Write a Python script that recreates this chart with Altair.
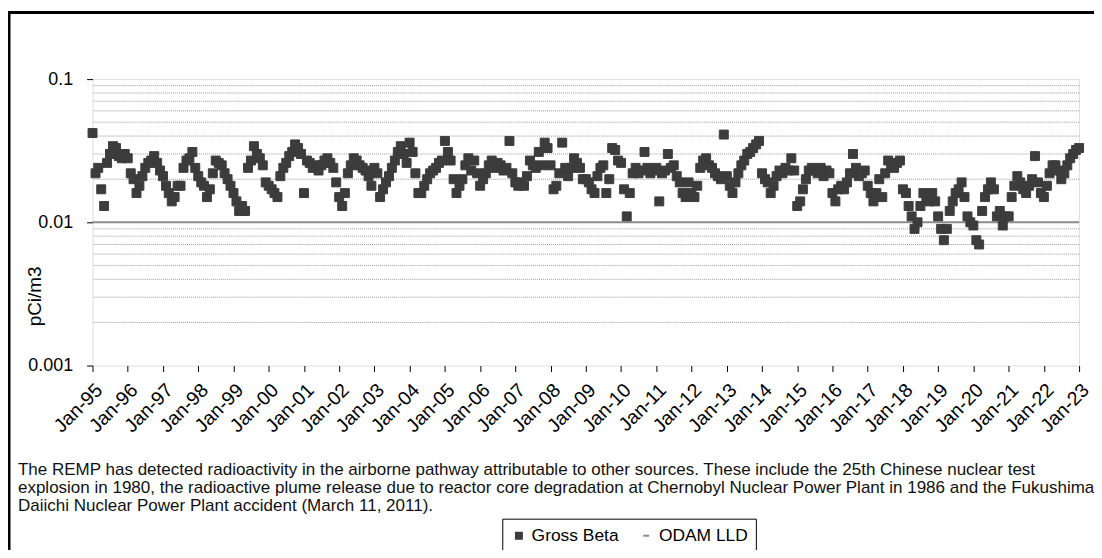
import altair as alt
import pandas as pd

# Monthly Gross Beta air particulate results (pCi/m3), Jan-1995 .. Jan-2023
gross_beta = [
    # 1995
    0.042, 0.022, 0.024, 0.017, 0.013, 0.026, 0.030, 0.034, 0.033, 0.029, 0.028, 0.030,
    # 1996
    0.028, 0.022, 0.020, 0.016, 0.018, 0.021, 0.024, 0.026, 0.027, 0.029, 0.026, 0.023,
    # 1997
    0.021, 0.018, 0.016, 0.014, 0.015, 0.018, 0.018, 0.024, 0.027, 0.028, 0.031, 0.024,
    # 1998
    0.021, 0.019, 0.018, 0.015, 0.017, 0.022, 0.027, 0.026, 0.025, 0.022, 0.020, 0.018,
    # 1999
    0.016, 0.014, 0.012, 0.013, 0.012, 0.024, 0.027, 0.034, 0.030, 0.028, 0.025, 0.019,
    # 2000
    0.018, 0.017, 0.016, 0.015, 0.021, 0.024, 0.026, 0.029, 0.031, 0.035, 0.033, 0.030,
    # 2001
    0.016, 0.027, 0.026, 0.024, 0.025, 0.023, 0.025, 0.027, 0.028, 0.026, 0.024, 0.019,
    # 2002
    0.015, 0.013, 0.016, 0.022, 0.025, 0.028, 0.027, 0.025, 0.024, 0.023, 0.021, 0.018,
    # 2003
    0.024, 0.022, 0.015, 0.017, 0.019, 0.021, 0.024, 0.027, 0.031, 0.034, 0.030, 0.026,
    # 2004
    0.036, 0.031, 0.022, 0.016, 0.016, 0.018, 0.020, 0.022, 0.023, 0.024, 0.026, 0.027,
    # 2005
    0.037, 0.031, 0.027, 0.020, 0.016, 0.018, 0.020, 0.025, 0.028, 0.023, 0.027, 0.022,
    # 2006
    0.018, 0.020, 0.022, 0.025, 0.027, 0.024, 0.026, 0.025, 0.023, 0.024, 0.037, 0.022,
    # 2007
    0.019, 0.018, 0.019, 0.018, 0.021, 0.027, 0.025, 0.024, 0.031, 0.025, 0.036, 0.033,
    # 2008
    0.025, 0.017, 0.018, 0.022, 0.036, 0.024, 0.021, 0.024, 0.028, 0.026, 0.024, 0.020,
    # 2009
    0.020, 0.019, 0.017, 0.016, 0.021, 0.024, 0.025, 0.016, 0.020, 0.033, 0.032, 0.027,
    # 2010
    0.026, 0.017, 0.011, 0.016, 0.022, 0.024, 0.022, 0.023, 0.031, 0.024, 0.022, 0.023,
    # 2011
    0.024, 0.014, 0.022, 0.023, 0.030, 0.024, 0.025, 0.021, 0.019, 0.016, 0.015, 0.019,
    # 2012
    0.016, 0.015, 0.018, 0.024, 0.027, 0.028, 0.025, 0.024, 0.022, 0.021, 0.020, 0.041,
    # 2013
    0.021, 0.018, 0.016, 0.019, 0.022, 0.025, 0.027, 0.030, 0.031, 0.033, 0.035, 0.037,
    # 2014
    0.022, 0.020, 0.019, 0.016, 0.018, 0.021, 0.023, 0.022, 0.024, 0.023, 0.028, 0.023,
    # 2015
    0.013, 0.014, 0.017, 0.020, 0.023, 0.024, 0.023, 0.022, 0.024, 0.021, 0.023, 0.022,
    # 2016
    0.016, 0.014, 0.017, 0.018, 0.017, 0.019, 0.022, 0.030, 0.024, 0.021, 0.022, 0.023,
    # 2017
    0.018, 0.016, 0.014, 0.016, 0.020, 0.015, 0.022, 0.027, 0.025, 0.024, 0.026, 0.027,
    # 2018
    0.017, 0.016, 0.013, 0.011, 0.009, 0.010, 0.013, 0.016, 0.015, 0.014, 0.016, 0.014,
    # 2019
    0.011, 0.009, 0.0075, 0.009, 0.012, 0.014, 0.016, 0.017, 0.019, 0.015, 0.011, 0.010,
    # 2020
    0.0095, 0.0075, 0.007, 0.012, 0.015, 0.017, 0.019, 0.017, 0.011, 0.012, 0.0095, 0.011,
    # 2021
    0.011, 0.015, 0.018, 0.021, 0.019, 0.017, 0.016, 0.018, 0.020, 0.029, 0.019, 0.016,
    # 2022
    0.015, 0.018, 0.022, 0.025, 0.025, 0.023, 0.020, 0.022, 0.025, 0.028, 0.030, 0.032,
    # 2023
    0.033,
]

series_names = ["Gross Beta", "ODAM LLD"]
odam_lld = 0.01
lld_dates = ["1995-01-01", "2023-01-01"]
minor_grid = [0.002, 0.003, 0.004, 0.005, 0.006, 0.007, 0.008, 0.009,
              0.02, 0.03, 0.04, 0.05, 0.06, 0.07, 0.08, 0.09]
major_ticks = [0.001, 0.01, 0.1]
tick_years = list(range(1995, 2024))
caption_lines = [
    "The REMP has detected radioactivity in the airborne pathway attributable to other sources. These include the 25th Chinese nuclear test",
    "explosion  in 1980, the radioactive plume release due to reactor core degradation at Chernobyl Nuclear Power Plant in 1986 and the Fukushima",
    "Daiichi Nuclear Power Plant accident (March 11, 2011).",
]

FONT = "Liberation Sans"

dates = pd.date_range("1995-01-01", periods=len(gross_beta), freq="MS").strftime("%Y-%m-%d")
df = pd.DataFrame({"date": dates, "value": gross_beta, "series": series_names[0]})
lld_df = pd.DataFrame({"date": lld_dates, "value": [odam_lld] * len(lld_dates), "series": series_names[1]})
grid_df = pd.DataFrame({"value": minor_grid})

x_scale = alt.Scale(
    type="utc",
    domain=[alt.DateTime(year=1995, month=1, date=1, utc=True),
            alt.DateTime(year=2023, month=1, date=1, utc=True)],
)
y_scale = alt.Scale(type="log", domain=[0.001, 0.1])

x_axis = alt.Axis(
    values=[alt.DateTime(year=y, month=1, date=1, utc=True) for y in tick_years],
    labelExpr="utcFormat(datum.value, '%b-%y')", labelAngle=-45, labelAlign="right",
    labelBaseline="top", labelFontSize=19.5, labelColor="black", labelFont=FONT,
    labelOverlap=False, labelFlush=False, labelPadding=9, tickColor="black",
    tickSize=6, tickWidth=1, grid=False, domain=False, title=None,
)
y_axis = alt.Axis(
    values=major_ticks, format="~g", labelFontSize=18, labelColor="black", labelFont=FONT,
    labelPadding=14, tickColor="black", tickSize=6, tickWidth=1, grid=False, domain=False,
    title="pCi/m3", titleFont=FONT, titleFontSize=19, titleFontWeight="normal", titleColor="black",
    titleX=-58, titleY=218, titleAlign="center", titleBaseline="middle", titleAngle=270,
)

grid = alt.Chart(grid_df).mark_rule(color="#9a9a9a", strokeDash=[1, 1], strokeWidth=1).encode(
    y=alt.Y("value:Q", scale=y_scale, axis=y_axis)
)

lld = alt.Chart(lld_df).mark_line(color="#8c8c8c", strokeWidth=2).encode(
    x=alt.X("date:T", scale=x_scale, axis=x_axis),
    y=alt.Y("value:Q", scale=y_scale, axis=y_axis),
)

legend = alt.Legend(
    orient="none", legendX=412, legendY=442, direction="horizontal", title=None,
    labelFont=FONT, labelFontSize=17.5, labelColor="black", labelOffset=4,
    symbolSize=36, symbolStrokeWidth=2, columnPadding=18, padding=8,
    strokeColor="black", fillColor="white", cornerRadius=0,
)

points = alt.Chart(df).mark_point(filled=False, fill="#3c3c3c", fillOpacity=1, size=81,
                                  opacity=1, strokeWidth=1).encode(
    x=alt.X("date:T", scale=x_scale, axis=x_axis),
    y=alt.Y("value:Q", scale=y_scale, axis=y_axis),
    color=alt.Color("series:N", scale=alt.Scale(domain=series_names, range=["#3c3c3c", "#8c8c8c"]),
                    legend=legend),
    shape=alt.Shape("series:N", scale=alt.Scale(domain=series_names, range=["square", "stroke"]),
                    legend=legend),
)

dummy = pd.DataFrame({"k": [0]})
frame_left = alt.Chart(dummy).mark_rule(color="black", strokeWidth=3).encode(
    x=alt.value(-84), y=alt.value(-67), y2=alt.value(480)
)
frame_top = alt.Chart(dummy).mark_rule(color="black", strokeWidth=3).encode(
    x=alt.value(-85), x2=alt.value(1010), y=alt.value(-67)
)

caption_y = [393, 411, 429]
captions = [
    alt.Chart(pd.DataFrame({"t": [line]})).mark_text(
        align="left", baseline="middle", font=FONT, fontSize=17.1, color="#111111"
    ).encode(x=alt.value(-75), y=alt.value(cy), text="t:N")
    for line, cy in zip(caption_lines, caption_y)
]

chart = alt.layer(grid, lld, points, frame_left, frame_top, *captions).properties(
    width=992, height=288,
    autosize=alt.AutoSizeParams(type="none"),
    padding={"left": 85, "top": 70, "right": 15, "bottom": 184},
).configure_view(stroke="black", strokeWidth=2.5).configure(background="white")

chart.save("out.html", embed_options={"renderer": "svg", "actions": False})
